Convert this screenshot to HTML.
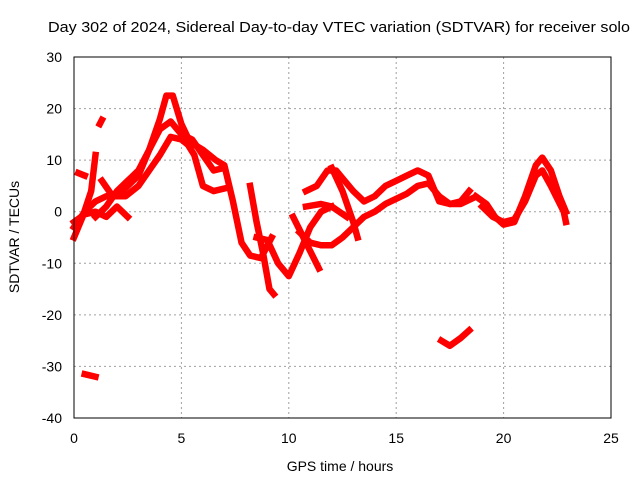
<!DOCTYPE html>
<html><head><meta charset="utf-8"><style>
body{margin:0;background:#fff;}
svg text{font-family:"Liberation Sans",sans-serif;font-size:14px;fill:#000;}
</style></head><body>
<svg id="chart" width="640" height="480" viewBox="0 0 640 480" xmlns="http://www.w3.org/2000/svg">
<text x="48" y="32" textLength="582" lengthAdjust="spacingAndGlyphs" style="font-size:15px">Day 302 of 2024, Sidereal Day-to-day VTEC variation (SDTVAR) for receiver solo</text>
<text x="340" y="471" text-anchor="middle">GPS time / hours</text>
<text transform="translate(19,237) rotate(-90)" text-anchor="middle">SDTVAR / TECUs</text>
<g id="grid"></g><g id="ticks"></g><g id="series"></g>
<rect x="74" y="57" width="537" height="361" fill="none" stroke="#000" stroke-width="1"/>
</svg>
<script>
const xTicks=[0,5,10,15,20,25];
const yTicks=[-40,-30,-20,-10,0,10,20,30];
const trackA=[[0,-5],[0.4,-1],[0.8,4],[1.0,11]];
const trackB=[[0,-3],[0.5,0],[1,2],[1.5,3],[2,3],[2.5,5],[3,7],[3.5,12],[4,18],[4.3,22.5],[4.6,22.5],[5,17],[5.4,13.5],[6,12],[6.6,10],[7,9],[7.4,2],[7.8,-6],[8.2,-8.5],[8.7,-9],[9.2,-5]];
const trackC=[[1,-1],[1.5,1],[2,4],[2.5,6],[3,8],[3.5,12],[4,16],[4.5,17.5],[5,15],[5.5,14],[6,11],[6.5,8],[7,8.5]];
const trackD=[[1.3,6],[1.8,3],[2.4,3],[3,5],[3.5,8],[4,11],[4.5,14.5],[5,14],[5.3,13],[5.6,11],[6,5],[6.5,4],[7,4.5]];
const trackE=[[0,-2],[0.5,-0.5],[1,0],[1.5,-1],[2,1],[2.5,-1]];
const trackF=[[0.2,7.5],[0.5,7]];
const trackG=[[1.2,17],[1.3,17.8]];
const trackH=[[0.5,-31.5],[1.0,-32]];
const trackI=[[8.2,5],[8.5,-2],[8.8,-8],[9.1,-15],[9.3,-16]];
const trackJ=[[10.8,1],[11.5,1.5],[12,1],[12.7,-1]];
const trackK=[[8.5,-5],[9,-5.5],[9.5,-10],[10,-12.5],[10.5,-8],[11,-3],[11.5,0],[12,1]];
const trackM=[[10.2,-1],[10.8,-6],[11.4,-11]];
const trackN=[[10.5,-4],[11,-6],[11.5,-6.5],[12,-6.5],[12.5,-5],[13,-3],[13.5,-1],[14,0],[14.5,1.5],[15,2.5],[15.5,3.5],[16,5],[16.5,5.5],[17,3],[17.5,1.5],[18,1.5],[18.5,2.5]];
const trackO=[[10.8,4],[11.3,5],[11.8,8],[12.2,8],[12.6,6],[13,4],[13.5,2],[14,3],[14.5,5],[15,6],[15.5,7],[16,8],[16.5,7],[17,2],[17.5,1.5],[18,2],[18.4,4]];
const trackP=[[12,8.5],[12.5,4],[13,-2],[13.2,-5]];
const trackR=[[18.7,3],[19.2,1.5],[19.6,-1],[20,-2.5],[20.5,-2],[21,3],[21.5,9],[21.8,10.5],[22.2,8],[22.6,3],[22.9,0]];
const trackS=[[19,1],[19.5,-1],[20,-2],[20.5,-1.5],[21,2],[21.5,7],[21.8,8],[22.2,5],[22.8,0],[22.9,-2]];
const trackT=[[17.1,-25],[17.5,-26],[18,-24.5],[18.4,-23]];
const tracks=[trackA,trackB,trackC,trackD,trackE,trackF,trackG,trackH,trackI,trackJ,trackK,trackM,trackN,trackO,trackP,trackR,trackS,trackT];
const NS='http://www.w3.org/2000/svg';
const X0=74,X1=611,Y0=418,Y1=57;
function sx(h){return X0+(h-0)/(25-0)*(X1-X0);}
function sy(v){return Y0-(v+40)/70*(Y0-Y1);}
const grid=document.getElementById('grid'),ticks=document.getElementById('ticks'),ser=document.getElementById('series');
xTicks.forEach(t=>{
 const x=sx(t);
 if(t>0&&t<25){const g=document.createElementNS(NS,'line');
 
 
 g.setAttribute('x1',x);g.setAttribute('x2',x);g.setAttribute('y1',Y1);g.setAttribute('y2',Y0);
 g.setAttribute('stroke','#a0a0a0');g.setAttribute('stroke-dasharray','2,3');grid.appendChild(g);}
 const tx=document.createElementNS(NS,'text');
 
 
 tx.setAttribute('x',x);tx.setAttribute('y',443);tx.setAttribute('text-anchor','middle');tx.textContent=t;ticks.appendChild(tx);
});
yTicks.forEach(t=>{
 const y=sy(t);
 if(t>-40&&t<30){const g=document.createElementNS(NS,'line');
 
 
 g.setAttribute('x1',X0);g.setAttribute('x2',X1);g.setAttribute('y1',y);g.setAttribute('y2',y);
 g.setAttribute('stroke','#a0a0a0');g.setAttribute('stroke-dasharray','2,3');grid.appendChild(g);}
 const tx=document.createElementNS(NS,'text');
 
 
 tx.setAttribute('x',62);tx.setAttribute('y',y+5);tx.setAttribute('text-anchor','end');tx.textContent=t;ticks.appendChild(tx);
});
tracks.forEach(tr=>{
 const p=document.createElementNS(NS,'polyline');
 
 
 p.setAttribute('points',tr.map(d=>sx(d[0])+','+sy(d[1])).join(' '));
 p.setAttribute('fill','none');p.setAttribute('stroke','#ff0000');p.setAttribute('stroke-width','6.5');
 p.setAttribute('stroke-linejoin','round');p.setAttribute('stroke-linecap','square');
 ser.appendChild(p);
});
</script>
</body></html>
